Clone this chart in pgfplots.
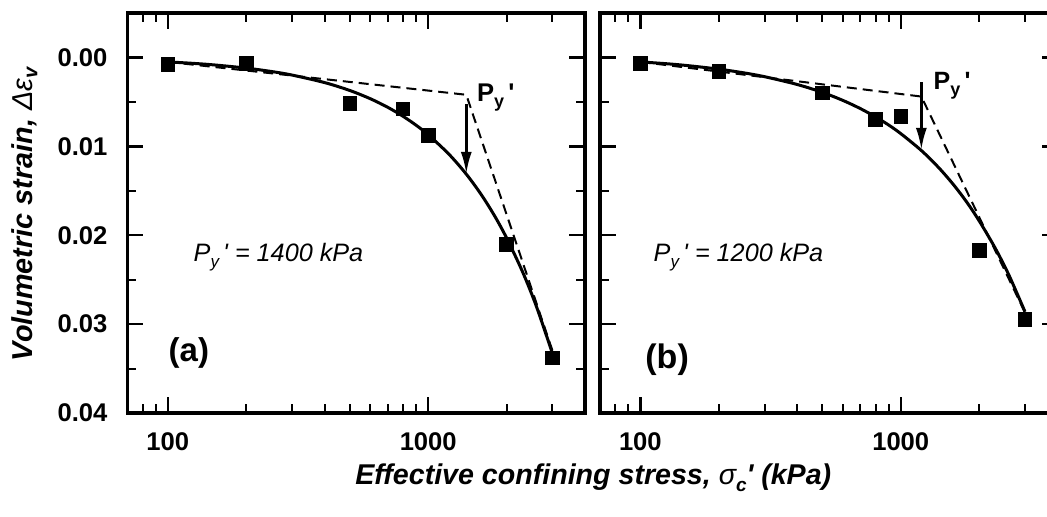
\documentclass[border=0pt]{standalone}
\usepackage{fontspec}
\setmainfont{Liberation Sans}
\usepackage{pgfplots}
\pgfplotsset{compat=1.18}
\usetikzlibrary{arrows.meta}

\begin{document}
\begin{tikzpicture}
% ---------------- panel (a) ----------------
\begin{axis}[
    at={(63.75pt,52pt)}, anchor=south west,
    scale only axis, width=228.75pt, height=200pt,
    xmode=log, xmin=70, xmax=4000,
    ymin=-0.005, ymax=0.04, y dir=reverse,
    scaled x ticks=false, scaled y ticks=false,
    xtick={100,1000}, xticklabels={100,1000},
    minor xtick={70,80,90,200,300,400,500,600,700,800,900,2000,3000},
    ytick={0,0.01,0.02,0.03,0.04},
    yticklabels={0.00,0.01,0.02,0.03,0.04},
    minor ytick={0.005,0.015,0.025,0.035},
    tick align=inside,
    major tick length=8pt, minor tick length=4.5pt,
    every major tick/.append style={line width=1.2pt, black},
    every minor tick/.append style={line width=1pt, black},
    axis line style={line width=1.6pt},
    ticklabel style={font=\fontsize{12.8pt}{14pt}\selectfont\bfseries},
    xticklabel style={yshift=-6.5pt},
    yticklabel style={xshift=-6.5pt},
    clip=false,
  ]
\addplot[black, line width=1pt, dash pattern=on 5pt off 3pt] coordinates {(100,0.0005) (1400,0.0042) (3000,0.0330)};
\addplot[black, line width=1.5pt, smooth] coordinates {
(100,0.000500) (125,0.000666) (150,0.000837) (200,0.001199) (250,0.001582)
(300,0.001983) (400,0.002827) (500,0.003719) (600,0.004652) (700,0.005618)
(800,0.006618) (900,0.007643) (1000,0.008701) (1200,0.010876) (1400,0.013128)
(1600,0.015453) (1800,0.017843) (2000,0.020312) (2300,0.024084) (2600,0.027975)
(3000,0.033314)};
\addplot[only marks, mark=square*, mark size=3.4pt, mark options={fill=black, draw=black, solid}] coordinates {
(100,0.0008) (200,0.0007) (500,0.0052) (800,0.0058) (1000,0.0088) (2000,0.0210) (3000,0.0338)};
\draw[-{Latex[length=11pt,width=5.5pt]}, line width=1.3pt] (axis cs:1400,0.0052) -- (axis cs:1400,0.0131);
\end{axis}
% ---------------- panel (b) ----------------
\begin{axis}[
    at={(300pt,52pt)}, anchor=south west,
    scale only axis, width=228.75pt, height=200pt,
    xmode=log, xmin=70, xmax=4000,
    ymin=-0.005, ymax=0.04, y dir=reverse,
    scaled x ticks=false, scaled y ticks=false,
    xtick={100,1000}, xticklabels={100,1000},
    minor xtick={70,80,90,200,300,400,500,600,700,800,900,2000,3000},
    ytick={0,0.01,0.02,0.03,0.04},
    yticklabels={},
    minor ytick={0.005,0.015,0.025,0.035},
    tick align=inside,
    major tick length=8pt, minor tick length=4.5pt,
    every major tick/.append style={line width=1.2pt, black},
    every minor tick/.append style={line width=1pt, black},
    axis line style={line width=1.6pt},
    ticklabel style={font=\fontsize{12.8pt}{14pt}\selectfont\bfseries},
    xticklabel style={yshift=-6.5pt},
    clip=false,
  ]
\addplot[black, line width=1pt, dash pattern=on 5pt off 3pt] coordinates {(100,0.0005) (1200,0.0044) (3000,0.0287)};
\addplot[black, line width=1.5pt, smooth] coordinates {
(100,0.000500) (125,0.000699) (150,0.000902) (200,0.001315) (250,0.001737)
(300,0.002166) (400,0.003040) (500,0.003930) (600,0.004838) (700,0.005757)
(800,0.006684) (900,0.007616) (1000,0.008568) (1200,0.010471) (1400,0.012410)
(1600,0.014370) (1800,0.016350) (2000,0.018374) (2300,0.021397) (2600,0.024460)
(3000,0.028607)};
\addplot[only marks, mark=square*, mark size=3.4pt, mark options={fill=black, draw=black, solid}] coordinates {
(100,0.0007) (200,0.0016) (500,0.0040) (800,0.0070) (1000,0.0066) (2000,0.0217) (3000,0.0295)};
\draw[-{Latex[length=11pt,width=5.5pt]}, line width=1.3pt] (axis cs:1200,0.0028) -- (axis cs:1200,0.0104);
\end{axis}
% ---------------- texts ----------------
\node[anchor=base west, inner sep=0, font=\fontsize{12.6pt}{14pt}\selectfont\itshape] at (96.65pt,127.65pt) {P\raisebox{-0.45ex}{\fontsize{8.5pt}{9pt}\selectfont y}\,\textquotesingle\ = 1400 kPa};
\node[anchor=base west, inner sep=0, font=\fontsize{12.6pt}{14pt}\selectfont\itshape] at (326.65pt,127.65pt) {P\raisebox{-0.45ex}{\fontsize{8.5pt}{9pt}\selectfont y}\,\textquotesingle\ = 1200 kPa};
\node[anchor=base west, inner sep=0, font=\fontsize{16.5pt}{18pt}\selectfont\bfseries] at (84.15pt,77.65pt) {(a)};
\node[anchor=base west, inner sep=0, font=\fontsize{17pt}{18pt}\selectfont\bfseries] at (322.5pt,74.35pt) {(b)};
\node[anchor=base west, inner sep=0, font=\fontsize{12.8pt}{14pt}\selectfont\bfseries] at (238.35pt,207.65pt) {P\raisebox{-0.45ex}{\fontsize{9pt}{10pt}\selectfont y}\,\textquotesingle};
\node[anchor=base west, inner sep=0, font=\fontsize{12.5pt}{14pt}\selectfont\bfseries] at (466.65pt,213.85pt) {P\raisebox{-0.45ex}{\fontsize{9pt}{10pt}\selectfont y}\,\textquotesingle};
\node[anchor=base, inner sep=0, font=\fontsize{14.3pt}{17pt}\selectfont\bfseries\itshape] at (296.65pt,16.35pt) {Effective confining stress, {\mdseries σ}\raisebox{-0.5ex}{\fontsize{9.5pt}{10pt}\selectfont c}\textquotesingle\ (kPa)};
\node[rotate=90, anchor=base, inner sep=0, font=\fontsize{14.4pt}{16pt}\selectfont\bfseries\itshape] at (16.5pt,151.5pt) {Volumetric strain, {\mdseries Δε}\textsubscript{v}};
\pgfresetboundingbox
\path[use as bounding box] (0,0) rectangle (523.5pt,258.5pt);
\end{tikzpicture}
\end{document}
